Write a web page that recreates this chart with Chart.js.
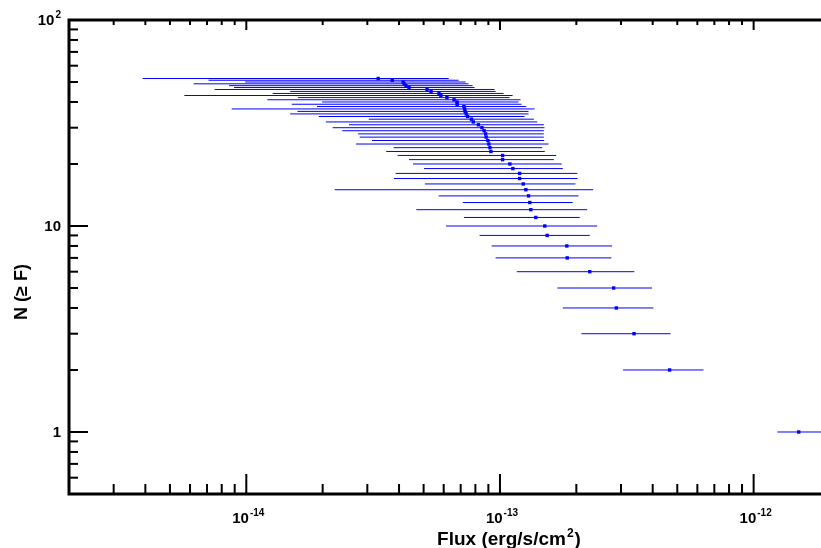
<!DOCTYPE html>
<html>
<head>
<meta charset="utf-8">
<script src="https://cdn.jsdelivr.net/npm/chart.js@4.4.1/dist/chart.umd.min.js"></script>
<style>
  html, body { margin: 0; padding: 0; background: #fff; overflow: hidden; width: 821px; height: 548px; }
  canvas { display: block; }
</style>
</head>
<body>
<canvas id="logNlogS" width="834" height="548"></canvas>
<script>
// Cumulative source counts N(>=F), brightest source last
const counts = [52, 51, 50, 49, 48, 47, 46, 45, 44, 43, 42, 41, 40, 39, 38, 37, 36, 35, 34, 33, 32, 31, 30, 29, 28, 27,
                26, 25, 24, 23, 22, 21, 20, 19, 18, 17, 16, 15, 14, 13, 12, 11, 10, 9, 8, 7, 6, 5, 4, 3, 2, 1];

// Flux values in units of 1e-14 erg/s/cm^2
const fluxScale = 1e-14;
const flux = [3.31, 3.76, 4.15, 4.19, 4.26, 4.38, 5.16, 5.35, 5.75, 5.85, 6.18, 6.59, 6.77, 6.78, 7.21, 7.25, 7.29, 7.36, 7.46, 7.72, 7.85, 8.22, 8.49, 8.66, 8.78, 8.82,
              8.96, 9.04, 9.13, 9.21, 10.24, 10.24, 10.94, 11.24, 11.95, 11.95, 12.35, 12.65, 12.96, 13.11, 13.23, 13.84, 15.02, 15.35, 18.34, 18.41, 22.59, 28.07, 28.76, 33.77, 46.63, 150.6];
// Lower and upper ends of the flux uncertainty
const fluxLow = [0.39, 0.71, 0.99, 0.62, 0.855, 0.895, 0.75, 1.49, 1.27, 0.57, 1.60, 1.21, 1.99, 1.51, 1.90, 0.876, 1.59, 1.49, 1.93, 3.04, 2.06, 2.54, 2.19, 2.39, 2.76, 2.80,
                 3.13, 2.71, 3.81, 3.56, 3.95, 4.38, 4.54, 5.02, 3.88, 3.82, 5.06, 2.23, 5.73, 7.13, 4.68, 7.21, 6.13, 8.31, 9.27, 9.61, 11.65, 16.85, 17.69, 20.95, 30.57, 124.1];
const fluxHigh = [6.28, 6.87, 7.32, 7.52, 7.80, 7.94, 9.52, 9.61, 10.33, 11.21, 10.91, 12.05, 11.84, 12.16, 12.69, 13.68, 12.96, 12.96, 12.50, 13.60, 14.03, 14.89, 14.98, 14.89, 14.89, 14.89,
                  14.94, 15.54, 14.67, 15.02, 16.66, 16.30, 17.52, 17.69, 20.20, 20.23, 19.84, 23.30, 20.39, 19.36, 22.06, 20.63, 24.15, 22.59, 27.67, 27.49, 33.86, 39.77, 40.24, 47.06, 63.44, 230];

// Axis ranges and labelled ticks
const xRange = [2e-15, 2e-12];
const yRange = [0.5, 100];
const xMajor = [1e-14, 1e-13, 1e-12];
const xMajorLabels = [['10', '-14'], ['10', '-13'], ['10', '-12']];
const yMajor = [1, 10, 100];
const yMajorLabels = [['1', ''], ['10', ''], ['10', '2']];
const xTitle = ['Flux (erg/s/cm', '2', ')'];
const yTitle = 'N (\u2265 F)';

const FONT = '"Liberation Sans", Arial, Helvetica, sans-serif';
const BLUE = '#0000ff';

// minor ticks at 2..9 times each decade inside a range
function minorTicks(lo, hi) {
  const out = [];
  for (let e = Math.floor(Math.log10(lo)); e <= Math.ceil(Math.log10(hi)); e++) {
    for (let m = 2; m <= 9; m++) {
      const v = m * Math.pow(10, e);
      if (v > lo * 1.0001 && v < hi * 0.9999) out.push(v);
    }
  }
  return out;
}

// horizontal uncertainty bars drawn under the markers
const errorBars = {
  id: 'errorBars',
  beforeDatasetsDraw(chart) {
    const { ctx, chartArea: a, scales: { x, y } } = chart;
    ctx.save();
    ctx.beginPath();
    ctx.rect(a.left, a.top, a.right - a.left, a.bottom - a.top);
    ctx.clip();
    ctx.strokeStyle = BLUE;
    ctx.lineWidth = 1;
    counts.forEach((n, i) => {
      const py = y.getPixelForValue(n);
      ctx.beginPath();
      ctx.moveTo(x.getPixelForValue(fluxLow[i] * fluxScale), py);
      ctx.lineTo(x.getPixelForValue(fluxHigh[i] * fluxScale), py);
      ctx.stroke();
    });
    ctx.restore();
  }
};

// a run of [text, size, raise] pieces laid out left to right
function richText(ctx, parts, x, y, align) {
  const widths = parts.map(([t, size]) => {
    ctx.font = 'bold ' + size + 'px ' + FONT;
    return ctx.measureText(t).width;
  });
  const total = widths.reduce((s, w) => s + w, 0) + (parts.length - 1);
  let cx = align === 'center' ? x - total / 2 : align === 'right' ? x - total : x;
  ctx.textAlign = 'left';
  ctx.textBaseline = 'alphabetic';
  parts.forEach(([t, size, raise], i) => {
    ctx.font = 'bold ' + size + 'px ' + FONT;
    ctx.fillText(t, cx, y - (raise || 0));
    cx += widths[i] + 1;
  });
}

// box, inward ticks, tick labels and axis titles
const frameAxes = {
  id: 'frameAxes',
  afterDraw(chart) {
    const { ctx, chartArea: a, scales: { x, y } } = chart;
    ctx.save();
    ctx.strokeStyle = '#000';
    ctx.fillStyle = '#000';

    ctx.lineWidth = 2;
    // bottom ticks full length, top ticks shorter
    const xt = (v, len) => {
      const px = x.getPixelForValue(v);
      ctx.beginPath();
      ctx.moveTo(px, a.bottom); ctx.lineTo(px, a.bottom - len);
      ctx.moveTo(px, a.top); ctx.lineTo(px, a.top + len / 2);
      ctx.stroke();
    };
    const yt = (v, len) => {
      const py = y.getPixelForValue(v);
      ctx.beginPath();
      ctx.moveTo(a.left, py); ctx.lineTo(a.left + len, py);
      ctx.stroke();
    };
    minorTicks(xRange[0], xRange[1]).forEach(v => xt(v, 10));
    xMajor.forEach(v => xt(v, 20));
    minorTicks(yRange[0], yRange[1]).forEach(v => yt(v, 9));
    yMajor.forEach(v => yt(v, 19));

    ctx.lineWidth = 3;
    ctx.strokeRect(a.left, a.top, a.right - a.left, a.bottom - a.top);

    xMajor.forEach((v, i) => {
      const [b, s] = xMajorLabels[i];
      richText(ctx, [[b, 15, 0], [s, 10, 7]], x.getPixelForValue(v) + 2, a.bottom + 29, 'center');
    });
    yMajor.forEach((v, i) => {
      const [b, s] = yMajorLabels[i];
      const parts = s ? [[b, 15, 0], [s, 10, 7]] : [[b, 15, 0]];
      richText(ctx, parts, a.left - 8, y.getPixelForValue(v) + 5, 'right');
    });

    richText(ctx, [[xTitle[0], 19, 0], [xTitle[1], 12, 8], [xTitle[2], 19, 0]], 509, a.bottom + 51, 'center');
    ctx.restore();

    ctx.save();
    ctx.translate(27, 292);
    ctx.rotate(-Math.PI / 2);
    ctx.font = 'bold 18px ' + FONT;
    ctx.textAlign = 'center';
    ctx.textBaseline = 'alphabetic';
    ctx.fillStyle = '#000';
    ctx.fillText(yTitle, 0, 0);
    ctx.restore();
  }
};

new Chart(document.getElementById('logNlogS'), {
  type: 'scatter',
  data: {
    datasets: [{
      data: counts.map((n, i) => ({ x: flux[i] * fluxScale, y: n })),
      pointStyle: 'rect',
      pointRadius: 2.4,
      backgroundColor: BLUE,
      borderColor: BLUE,
      borderWidth: 0
    }]
  },
  options: {
    responsive: false,
    animation: false,
    devicePixelRatio: 1,
    layout: { padding: { left: 69, top: 20, right: 2, bottom: 54 } },
    plugins: { legend: { display: false }, tooltip: { enabled: false } },
    scales: {
      x: { type: 'logarithmic', min: xRange[0], max: xRange[1], display: false },
      y: { type: 'logarithmic', min: yRange[0], max: yRange[1], display: false }
    }
  },
  plugins: [errorBars, frameAxes]
});
</script>
</body>
</html>
